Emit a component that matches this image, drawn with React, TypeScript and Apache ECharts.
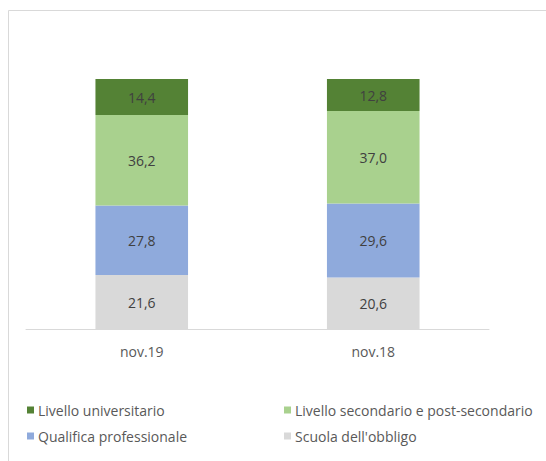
import React, { useEffect, useRef } from "react";
import * as echarts from "echarts";

const categories = ["nov.19", "nov.18"];
const seriesNames = [
  "Scuola dell'obbligo",
  "Qualifica professionale",
  "Livello secondario e post-secondario",
  "Livello universitario",
];
const scuolaObbligo = [21.6, 20.6];
const qualificaProf = [27.8, 29.6];
const livelloSecondario = [36.2, 37.0];
const livelloUniversitario = [14.4, 12.8];
const colors = ["#D9D9D9", "#8FAADC", "#A9D18E", "#548235"];

const FONT = "'Open Sans', 'Noto Sans', sans-serif";

export default function App() {
  const ref = useRef<HTMLDivElement>(null);
  useEffect(() => {
    if (!ref.current) return;
    const chart = echarts.init(ref.current, undefined, { renderer: "svg" });
    const values = [scuolaObbligo, qualificaProf, livelloSecondario, livelloUniversitario];
    const legendPos: Record<string, { left: number; top: number }> = {
      "Livello universitario": { left: 27, top: 403 },
      "Livello secondario e post-secondario": { left: 284, top: 403 },
      "Qualifica professionale": { left: 27, top: 429 },
      "Scuola dell'obbligo": { left: 284, top: 429 },
    };
    chart.setOption({
      animation: false,
      backgroundColor: "#ffffff",
      textStyle: { fontFamily: FONT },
      grid: { left: 26, right: 57, top: 79, bottom: 132 },
      xAxis: {
        type: "category",
        data: categories,
        axisLine: { lineStyle: { color: "#D9D9D9", width: 1 } },
        axisTick: { show: false },
        axisLabel: { color: "#595959", fontSize: 14, fontFamily: FONT, margin: 15 },
      },
      yAxis: { type: "value", min: 0, max: 100, show: false, splitLine: { show: false } },
      legend: seriesNames.map((n) => ({
        data: [n],
        left: legendPos[n].left,
        top: legendPos[n].top,
        icon: "rect",
        itemWidth: 7,
        itemHeight: 7,
        itemGap: 0,
        padding: 0,
        textStyle: { color: "#595959", fontSize: 14, fontFamily: FONT, padding: [0, 0, 0, -1] },
      })),
      graphic: [
        {
          type: "rect",
          shape: { x: 8.5, y: 10.5, width: 600, height: 600 },
          style: { fill: "none", stroke: "#D9D9D9", lineWidth: 1 },
          silent: true,
        },
      ],
      series: seriesNames.map((n, i) => ({
        name: n,
        type: "bar",
        stack: "total",
        data: values[i],
        barWidth: "40%",
        itemStyle: { color: colors[i] },
        label: {
          show: true,
          position: "inside",
          color: "#404040",
          fontSize: 14,
          fontFamily: FONT,
          formatter: (p: any) => Number(p.value).toFixed(1).replace(".", ","),
        },
      })),
    });
    return () => chart.dispose();
  }, []);
  return (
    <div
      ref={ref}
      style={{ position: "absolute", left: 0, top: 0, width: 546, height: 461 }}
    />
  );
}
